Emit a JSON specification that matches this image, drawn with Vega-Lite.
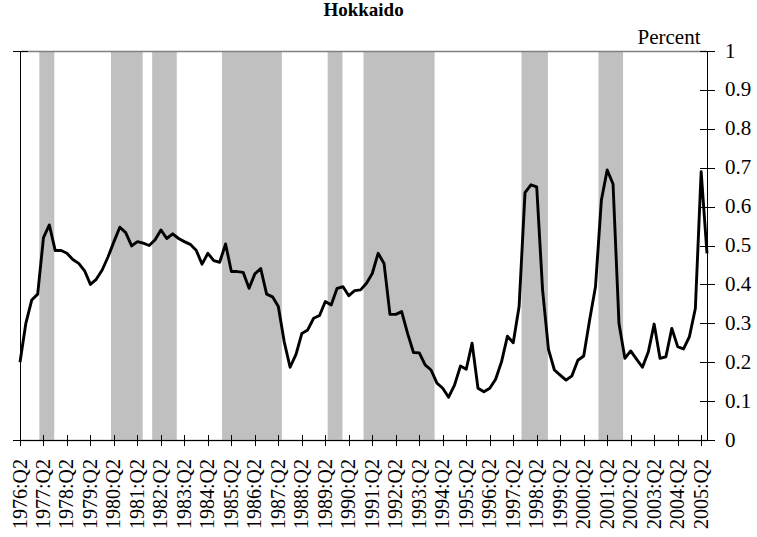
{
  "$schema": "https://vega.github.io/schema/vega-lite/v6.json",
  "width": 687,
  "height": 389,
  "autosize": {"type": "none"},
  "padding": {"left": 20, "top": 51, "right": 50, "bottom": 97},
  "background": "white",
  "title": {"text": "Hokkaido", "font": "Liberation Serif", "fontSize": 19, "fontWeight": "bold", "anchor": "middle", "frame": "group", "color": "black", "offset": 6},
  "config": {"view": {"stroke": null}},
  "datasets": {
    "series": [
      {"date": "1976-04-01", "v": 0.20}, {"date": "1976-07-01", "v": 0.30}, {"date": "1976-10-01", "v": 0.36}, {"date": "1977-01-01", "v": 0.375},
      {"date": "1977-04-01", "v": 0.52}, {"date": "1977-07-01", "v": 0.553}, {"date": "1977-10-01", "v": 0.487}, {"date": "1978-01-01", "v": 0.487},
      {"date": "1978-04-01", "v": 0.48}, {"date": "1978-07-01", "v": 0.464}, {"date": "1978-10-01", "v": 0.454}, {"date": "1979-01-01", "v": 0.435},
      {"date": "1979-04-01", "v": 0.40}, {"date": "1979-07-01", "v": 0.413}, {"date": "1979-10-01", "v": 0.437}, {"date": "1980-01-01", "v": 0.471},
      {"date": "1980-04-01", "v": 0.51}, {"date": "1980-07-01", "v": 0.547}, {"date": "1980-10-01", "v": 0.533}, {"date": "1981-01-01", "v": 0.499},
      {"date": "1981-04-01", "v": 0.51}, {"date": "1981-07-01", "v": 0.506}, {"date": "1981-10-01", "v": 0.50}, {"date": "1982-01-01", "v": 0.515},
      {"date": "1982-04-01", "v": 0.54}, {"date": "1982-07-01", "v": 0.518}, {"date": "1982-10-01", "v": 0.53}, {"date": "1983-01-01", "v": 0.518},
      {"date": "1983-04-01", "v": 0.51}, {"date": "1983-07-01", "v": 0.503}, {"date": "1983-10-01", "v": 0.488}, {"date": "1984-01-01", "v": 0.452},
      {"date": "1984-04-01", "v": 0.48}, {"date": "1984-07-01", "v": 0.461}, {"date": "1984-10-01", "v": 0.457}, {"date": "1985-01-01", "v": 0.504},
      {"date": "1985-04-01", "v": 0.433}, {"date": "1985-07-01", "v": 0.433}, {"date": "1985-10-01", "v": 0.431}, {"date": "1986-01-01", "v": 0.39},
      {"date": "1986-04-01", "v": 0.427}, {"date": "1986-07-01", "v": 0.441}, {"date": "1986-10-01", "v": 0.375}, {"date": "1987-01-01", "v": 0.368},
      {"date": "1987-04-01", "v": 0.343}, {"date": "1987-07-01", "v": 0.253}, {"date": "1987-10-01", "v": 0.187}, {"date": "1988-01-01", "v": 0.22},
      {"date": "1988-04-01", "v": 0.274}, {"date": "1988-07-01", "v": 0.283}, {"date": "1988-10-01", "v": 0.313}, {"date": "1989-01-01", "v": 0.32},
      {"date": "1989-04-01", "v": 0.356}, {"date": "1989-07-01", "v": 0.347}, {"date": "1989-10-01", "v": 0.39}, {"date": "1990-01-01", "v": 0.394},
      {"date": "1990-04-01", "v": 0.371}, {"date": "1990-07-01", "v": 0.384}, {"date": "1990-10-01", "v": 0.386}, {"date": "1991-01-01", "v": 0.403},
      {"date": "1991-04-01", "v": 0.428}, {"date": "1991-07-01", "v": 0.48}, {"date": "1991-10-01", "v": 0.454}, {"date": "1992-01-01", "v": 0.323},
      {"date": "1992-04-01", "v": 0.323}, {"date": "1992-07-01", "v": 0.33}, {"date": "1992-10-01", "v": 0.274}, {"date": "1993-01-01", "v": 0.225},
      {"date": "1993-04-01", "v": 0.224}, {"date": "1993-07-01", "v": 0.193}, {"date": "1993-10-01", "v": 0.18}, {"date": "1994-01-01", "v": 0.146},
      {"date": "1994-04-01", "v": 0.133}, {"date": "1994-07-01", "v": 0.11}, {"date": "1994-10-01", "v": 0.141}, {"date": "1995-01-01", "v": 0.19},
      {"date": "1995-04-01", "v": 0.182}, {"date": "1995-07-01", "v": 0.249}, {"date": "1995-10-01", "v": 0.133}, {"date": "1996-01-01", "v": 0.124},
      {"date": "1996-04-01", "v": 0.133}, {"date": "1996-07-01", "v": 0.156}, {"date": "1996-10-01", "v": 0.201}, {"date": "1997-01-01", "v": 0.267},
      {"date": "1997-04-01", "v": 0.25}, {"date": "1997-07-01", "v": 0.343}, {"date": "1997-10-01", "v": 0.636}, {"date": "1998-01-01", "v": 0.656},
      {"date": "1998-04-01", "v": 0.651}, {"date": "1998-07-01", "v": 0.386}, {"date": "1998-10-01", "v": 0.233}, {"date": "1999-01-01", "v": 0.18},
      {"date": "1999-04-01", "v": 0.167}, {"date": "1999-07-01", "v": 0.154}, {"date": "1999-10-01", "v": 0.165}, {"date": "2000-01-01", "v": 0.205},
      {"date": "2000-04-01", "v": 0.216}, {"date": "2000-07-01", "v": 0.308}, {"date": "2000-10-01", "v": 0.394}, {"date": "2001-01-01", "v": 0.617},
      {"date": "2001-04-01", "v": 0.694}, {"date": "2001-07-01", "v": 0.658}, {"date": "2001-10-01", "v": 0.30}, {"date": "2002-01-01", "v": 0.21},
      {"date": "2002-04-01", "v": 0.229}, {"date": "2002-07-01", "v": 0.208}, {"date": "2002-10-01", "v": 0.187}, {"date": "2003-01-01", "v": 0.227},
      {"date": "2003-04-01", "v": 0.298}, {"date": "2003-07-01", "v": 0.21}, {"date": "2003-10-01", "v": 0.214}, {"date": "2004-01-01", "v": 0.287},
      {"date": "2004-04-01", "v": 0.24}, {"date": "2004-07-01", "v": 0.234}, {"date": "2004-10-01", "v": 0.266}, {"date": "2005-01-01", "v": 0.338},
      {"date": "2005-04-01", "v": 0.69}, {"date": "2005-07-01", "v": 0.48}
    ],
    "bands": [
      {"start": "1977-01-27", "end": "1977-09-16"},
      {"start": "1980-02-15", "end": "1981-06-22"},
      {"start": "1981-11-16", "end": "1982-12-04"},
      {"start": "1984-11-07", "end": "1987-05-26"},
      {"start": "1989-05-07", "end": "1989-12-23"},
      {"start": "1990-11-16", "end": "1993-11-25"},
      {"start": "1997-08-07", "end": "1998-09-22"},
      {"start": "2000-11-16", "end": "2001-12-04"}
    ]
  },
  "layer": [
    {
      "data": {"name": "bands"},
      "mark": {"type": "rect", "color": "#c0c0c0"},
      "encoding": {
        "x": {
          "field": "start", "type": "temporal",
          "scale": {"type": "utc", "nice": false, "domain": [{"year": 1976, "month": 4, "date": 1, "utc": true}, {"year": 2005, "month": 7, "date": 1, "utc": true}]},
          "axis": {
            "orient": "bottom", "zindex": 1, "title": null, "grid": false,
            "values": [
              {"year": 1976, "month": 4, "date": 1, "utc": true}, {"year": 1977, "month": 4, "date": 1, "utc": true}, {"year": 1978, "month": 4, "date": 1, "utc": true},
              {"year": 1979, "month": 4, "date": 1, "utc": true}, {"year": 1980, "month": 4, "date": 1, "utc": true}, {"year": 1981, "month": 4, "date": 1, "utc": true},
              {"year": 1982, "month": 4, "date": 1, "utc": true}, {"year": 1983, "month": 4, "date": 1, "utc": true}, {"year": 1984, "month": 4, "date": 1, "utc": true},
              {"year": 1985, "month": 4, "date": 1, "utc": true}, {"year": 1986, "month": 4, "date": 1, "utc": true}, {"year": 1987, "month": 4, "date": 1, "utc": true},
              {"year": 1988, "month": 4, "date": 1, "utc": true}, {"year": 1989, "month": 4, "date": 1, "utc": true}, {"year": 1990, "month": 4, "date": 1, "utc": true},
              {"year": 1991, "month": 4, "date": 1, "utc": true}, {"year": 1992, "month": 4, "date": 1, "utc": true}, {"year": 1993, "month": 4, "date": 1, "utc": true},
              {"year": 1994, "month": 4, "date": 1, "utc": true}, {"year": 1995, "month": 4, "date": 1, "utc": true}, {"year": 1996, "month": 4, "date": 1, "utc": true},
              {"year": 1997, "month": 4, "date": 1, "utc": true}, {"year": 1998, "month": 4, "date": 1, "utc": true}, {"year": 1999, "month": 4, "date": 1, "utc": true},
              {"year": 2000, "month": 4, "date": 1, "utc": true}, {"year": 2001, "month": 4, "date": 1, "utc": true}, {"year": 2002, "month": 4, "date": 1, "utc": true},
              {"year": 2003, "month": 4, "date": 1, "utc": true}, {"year": 2004, "month": 4, "date": 1, "utc": true}, {"year": 2005, "month": 4, "date": 1, "utc": true}
            ],
            "labelExpr": "utcFormat(datum.value, '%Y') + ':Q2'",
            "labelAngle": -90, "labelFont": "Liberation Serif", "labelFontSize": 20, "labelColor": "black",
            "labelPadding": 13, "labelOverlap": false, "labelBound": false, "labelFlush": false,
            "tickSize": 5.5, "tickColor": "black", "tickWidth": 1, "domainColor": "black", "domainWidth": 1
          }
        },
        "x2": {"field": "end"},
        "y": {
          "datum": 0, "type": "quantitative",
          "scale": {"domain": [0, 1], "nice": false, "zero": true},
          "axis": {"orient": "left", "zindex": 1, "title": null, "values": [0, 1], "labels": false, "tickSize": 7.5, "tickColor": "black", "domainColor": "black", "domainWidth": 1, "grid": true, "gridColor": "#808080", "gridWidth": 1.5}
        },
        "y2": {"datum": 1}
      }
    },
    {
      "data": {"name": "series"},
      "mark": {"type": "line", "color": "black", "strokeWidth": 2.9, "strokeJoin": "round"},
      "encoding": {
        "x": {
          "field": "date", "type": "temporal",
          "axis": {
            "orient": "bottom", "offset": -5.5, "zindex": 1, "title": null, "grid": false, "domain": false, "labels": false,
            "tickSize": 5.5, "tickColor": "black",
            "values": [
              {"year": 1976, "month": 4, "date": 1, "utc": true}, {"year": 1977, "month": 4, "date": 1, "utc": true}, {"year": 1978, "month": 4, "date": 1, "utc": true},
              {"year": 1979, "month": 4, "date": 1, "utc": true}, {"year": 1980, "month": 4, "date": 1, "utc": true}, {"year": 1981, "month": 4, "date": 1, "utc": true},
              {"year": 1982, "month": 4, "date": 1, "utc": true}, {"year": 1983, "month": 4, "date": 1, "utc": true}, {"year": 1984, "month": 4, "date": 1, "utc": true},
              {"year": 1985, "month": 4, "date": 1, "utc": true}, {"year": 1986, "month": 4, "date": 1, "utc": true}, {"year": 1987, "month": 4, "date": 1, "utc": true},
              {"year": 1988, "month": 4, "date": 1, "utc": true}, {"year": 1989, "month": 4, "date": 1, "utc": true}, {"year": 1990, "month": 4, "date": 1, "utc": true},
              {"year": 1991, "month": 4, "date": 1, "utc": true}, {"year": 1992, "month": 4, "date": 1, "utc": true}, {"year": 1993, "month": 4, "date": 1, "utc": true},
              {"year": 1994, "month": 4, "date": 1, "utc": true}, {"year": 1995, "month": 4, "date": 1, "utc": true}, {"year": 1996, "month": 4, "date": 1, "utc": true},
              {"year": 1997, "month": 4, "date": 1, "utc": true}, {"year": 1998, "month": 4, "date": 1, "utc": true}, {"year": 1999, "month": 4, "date": 1, "utc": true},
              {"year": 2000, "month": 4, "date": 1, "utc": true}, {"year": 2001, "month": 4, "date": 1, "utc": true}, {"year": 2002, "month": 4, "date": 1, "utc": true},
              {"year": 2003, "month": 4, "date": 1, "utc": true}, {"year": 2004, "month": 4, "date": 1, "utc": true}, {"year": 2005, "month": 4, "date": 1, "utc": true}
            ]
          }
        },
        "y": {
          "field": "v", "type": "quantitative",
          "axis": {
            "orient": "right", "zindex": 1, "grid": false,
            "values": [0, 0.1, 0.2, 0.3, 0.4, 0.5, 0.6, 0.7, 0.8, 0.9, 1],
            "format": ".1~f",
            "tickSize": 7.5, "tickColor": "black", "domainColor": "black", "domainWidth": 1,
            "labelPadding": 10, "labelFont": "Liberation Serif", "labelFontSize": 21, "labelColor": "black",
            "labelFlush": false, "labelBound": false, "labelOverlap": false,
            "title": "Percent", "titleFont": "Liberation Serif", "titleFontSize": 21, "titleFontWeight": "normal", "titleColor": "black",
            "titleAngle": 0, "titleAlign": "right", "titleBaseline": "alphabetic", "titleX": -7, "titleY": -8
          }
        }
      }
    },
    {
      "data": {"name": "series"},
      "mark": {"type": "line", "opacity": 0},
      "encoding": {
        "x": {"field": "date", "type": "temporal", "axis": null},
        "y": {
          "field": "v", "type": "quantitative",
          "axis": {"orient": "left", "offset": -7.5, "zindex": 1, "title": null, "values": [0, 1], "labels": false, "domain": false, "grid": false, "tickSize": 7.5, "tickColor": "black"}
        }
      }
    },
    {
      "data": {"name": "series"},
      "mark": {"type": "line", "opacity": 0},
      "encoding": {
        "x": {"field": "date", "type": "temporal", "axis": null},
        "y": {
          "field": "v", "type": "quantitative",
          "axis": {"orient": "right", "offset": -7.5, "zindex": 1, "title": null, "values": [0, 0.1, 0.2, 0.3, 0.4, 0.5, 0.6, 0.7, 0.8, 0.9, 1], "labels": false, "domain": false, "grid": false, "tickSize": 7.5, "tickColor": "black"}
        }
      }
    }
  ],
  "resolve": {"axis": {"x": "independent", "y": "independent"}}
}
